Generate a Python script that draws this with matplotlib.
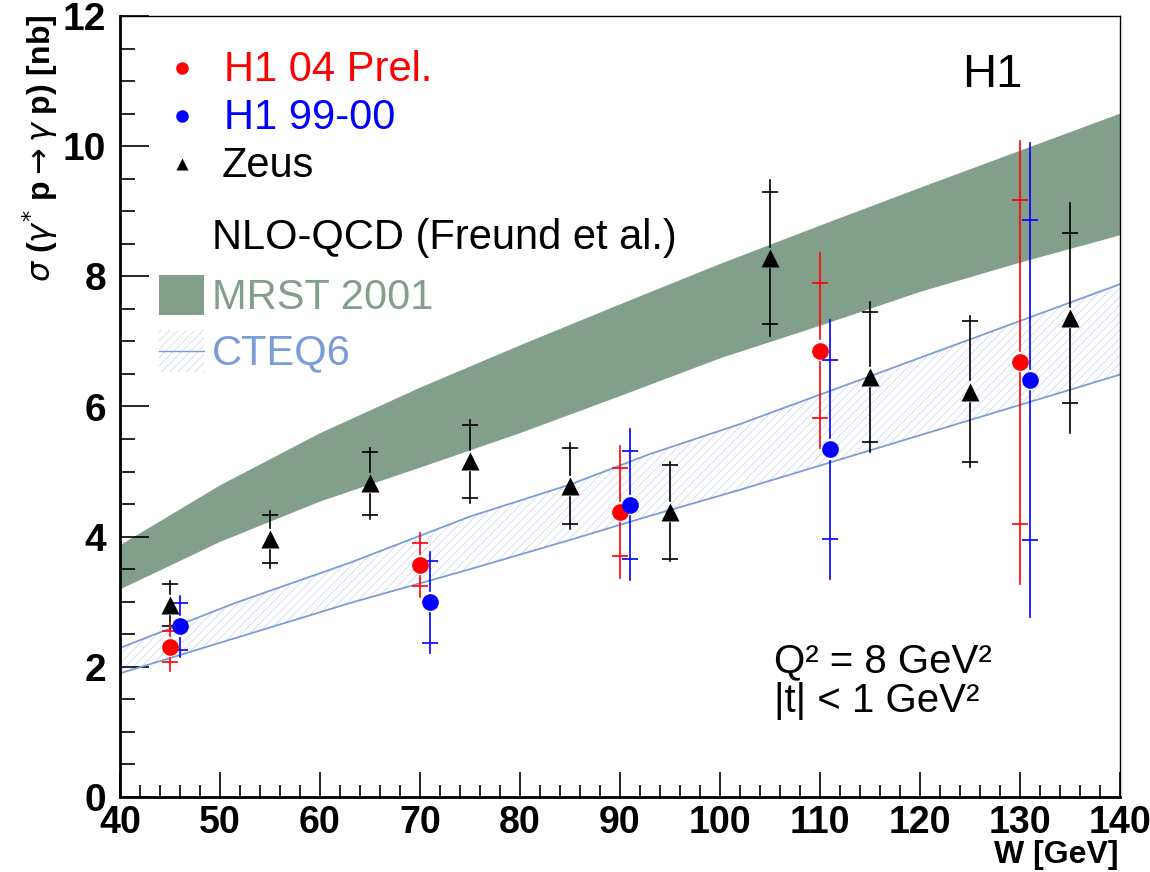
import numpy as np
import matplotlib
matplotlib.use('Agg')
import matplotlib.pyplot as plt
from matplotlib.patches import Rectangle
from matplotlib.ticker import MultipleLocator

plt.rcParams['font.family'] = ['Liberation Sans', 'DejaVu Sans']
plt.rcParams['mathtext.fontset'] = 'dejavusans'
plt.rcParams['hatch.linewidth'] = 0.6

# H1 04 preliminary (red)
w_h1_04 = [45, 70, 90, 110, 130]
xs_h1_04 = [2.31, 3.57, 4.38, 6.86, 6.68]
stat_h1_04 = [0.24, 0.33, 0.68, 1.03, 2.49]
tot_h1_04 = [0.37, 0.49, 1.02, 1.50, 3.40]

# H1 99-00 (blue)
w_h1_99 = [46, 71, 91, 111, 131]
xs_h1_99 = [2.62, 2.99, 4.49, 5.34, 6.41]
stat_h1_99 = [0.36, 0.63, 0.83, 1.38, 2.46]
tot_h1_99 = [0.47, 0.77, 1.16, 1.99, 3.64]

# Zeus (black triangles)
w_zeus = [45, 55, 65, 75, 85, 95, 105, 115, 125, 135]
xs_zeus = [2.95, 3.96, 4.82, 5.16, 4.78, 4.38, 8.28, 6.45, 6.23, 7.36]
stat_zeus = [0.33, 0.37, 0.48, 0.56, 0.59, 0.72, 1.01, 1.00, 1.08, 1.31]
tot_zeus = [0.37, 0.44, 0.55, 0.64, 0.66, 0.76, 1.20, 1.15, 1.16, 1.77]

# NLO-QCD MRST 2001 band
w_mrst = [40, 50, 60, 70, 80, 90, 100, 110, 120, 130, 140]
mrst_lo = [3.20, 3.93, 4.55, 5.07, 5.60, 6.17, 6.75, 7.25, 7.77, 8.22, 8.64]
mrst_hi = [3.88, 4.80, 5.60, 6.30, 6.95, 7.58, 8.20, 8.79, 9.37, 9.94, 10.51]

# NLO-QCD CTEQ6 band
w_cteq = [40, 51.5, 63, 75, 85, 93, 102, 140]
cteq_lo = [1.90, 2.44, 2.98, 3.50, 3.95, 4.32, 4.72, 6.49]
cteq_hi = [2.29, 2.98, 3.60, 4.31, 4.80, 5.27, 5.73, 7.88]

green = '#829f8c'
cteq_col = '#7b9dd6'

fig = plt.figure(figsize=(11.5, 8.72), dpi=100)
ax = fig.add_axes([120/1150, 1 - 797/872, 1000/1150, 781/872])

ax.fill_between(w_mrst, mrst_lo, mrst_hi, color=green, lw=0, zorder=1)
ax.fill_between(w_cteq, cteq_lo, cteq_hi, facecolor='none', edgecolor='#cfd9ee',
                hatch='////', lw=0, zorder=1)
ax.plot(w_cteq, cteq_lo, color=cteq_col, lw=1.3, zorder=2)
ax.plot(w_cteq, cteq_hi, color=cteq_col, lw=1.3, zorder=2)

gap = 0.17


def draw_points(w, v, stat, tot, color, marker, ms):
    for x, y, s, t in zip(w, v, stat, tot):
        if t > gap:
            ax.plot([x, x], [y + gap, y + t], color=color, lw=1.2, zorder=3)
            ax.plot([x, x], [y - t, y - gap], color=color, lw=1.2, zorder=3)
    w = np.array(w)
    v = np.array(v)
    s = np.array(stat)
    ax.plot(w, v + s, '_', color=color, ms=11, mew=1.2, zorder=3)
    ax.plot(w, v - s, '_', color=color, ms=11, mew=1.2, zorder=3)
    ax.plot(w, v, marker, color=color, ms=ms, mec='none', ls='none', zorder=4)


draw_points(w_zeus, xs_zeus, stat_zeus, tot_zeus, 'black', '^', 13)
draw_points(w_h1_04, xs_h1_04, stat_h1_04, tot_h1_04, 'red', 'o', 12)
draw_points(w_h1_99, xs_h1_99, stat_h1_99, tot_h1_99, 'blue', 'o', 12)

ax.set_xlim(40, 140)
ax.set_ylim(0, 12)
ax.xaxis.set_major_locator(MultipleLocator(10))
ax.xaxis.set_minor_locator(MultipleLocator(2))
ax.yaxis.set_major_locator(MultipleLocator(2))
ax.yaxis.set_minor_locator(MultipleLocator(0.5))
ax.tick_params(axis='x', which='major', direction='in', length=18, width=1.2, pad=6,
               labelsize=27)
ax.tick_params(axis='x', which='minor', direction='in', length=9, width=1.2)
ax.tick_params(axis='y', which='major', direction='in', length=21, width=1.2, pad=10,
               labelsize=28)
ax.tick_params(axis='y', which='minor', direction='in', length=11, width=1.2)
for lab in ax.get_xticklabels() + ax.get_yticklabels():
    lab.set_fontweight('bold')
for side in ['left', 'bottom']:
    ax.spines[side].set_linewidth(2.0)
for side in ['top', 'right']:
    ax.spines[side].set_linewidth(1.0)

# axis titles
fig.text(40/1150, 1 - 14/872, r'$\sigma$ ($\gamma^{*}$ p$\rightarrow\gamma$ p) [nb]',
         rotation=90, ha='center', va='top', fontsize=23, fontweight='bold')
fig.text(1118/1150, 1 - 870/872, 'W [GeV]', ha='right', va='bottom',
         fontsize=23, fontweight='bold')

# legend
def ax_xy(px, py):
    return (px - 120) / 1000, (797 - py) / 781


lx, ly = ax_xy(182, 68)
ax.plot(lx, ly, 'o', color='red', ms=9, mec='none', transform=ax.transAxes, clip_on=False)
ax.text(*ax_xy(224, 70), 'H1 04 Prel.', color='red', fontsize=30, va='center',
        transform=ax.transAxes)
lx, ly = ax_xy(182, 116)
ax.plot(lx, ly, 'o', color='blue', ms=9, mec='none', transform=ax.transAxes, clip_on=False)
ax.text(*ax_xy(224, 118), 'H1 99-00', color='blue', fontsize=30, va='center',
        transform=ax.transAxes)
lx, ly = ax_xy(182, 164)
ax.plot(lx, ly, '^', color='black', ms=9, mec='none', transform=ax.transAxes, clip_on=False)
ax.text(*ax_xy(222, 166), 'Zeus', color='black', fontsize=30, va='center',
        transform=ax.transAxes)
ax.text(*ax_xy(212, 238), 'NLO-QCD (Freund et al.)', color='black', fontsize=30,
        va='center', transform=ax.transAxes)

x0, y0 = ax_xy(159, 315)
ax.add_patch(Rectangle((x0, y0), 45/1000, 40/781, facecolor=green, edgecolor='none',
                       transform=ax.transAxes))
ax.text(*ax_xy(212, 298), 'MRST 2001', color=green, fontsize=30, va='center',
        transform=ax.transAxes)
x0, y0 = ax_xy(159, 372)
ax.add_patch(Rectangle((x0, y0), 45/1000, 42/781, facecolor='none', edgecolor='#cfd9ee',
                       hatch='////', lw=0, transform=ax.transAxes))
lx0, ly0 = ax_xy(159, 351)
ax.plot([lx0, lx0 + 45/1000], [ly0, ly0], color=cteq_col, lw=1.0, transform=ax.transAxes)
ax.text(*ax_xy(212, 353), 'CTEQ6', color=cteq_col, fontsize=30, va='center',
        transform=ax.transAxes)

ax.text(*ax_xy(962, 75), 'H1', fontsize=34, va='center', transform=ax.transAxes)
ax.text(*ax_xy(774, 661), 'Q² = 8 GeV²', fontsize=29, va='center', transform=ax.transAxes)
ax.text(*ax_xy(774, 701), '|t| < 1 GeV²', fontsize=29, va='center', transform=ax.transAxes)

fig.savefig('out.png', dpi=100)
